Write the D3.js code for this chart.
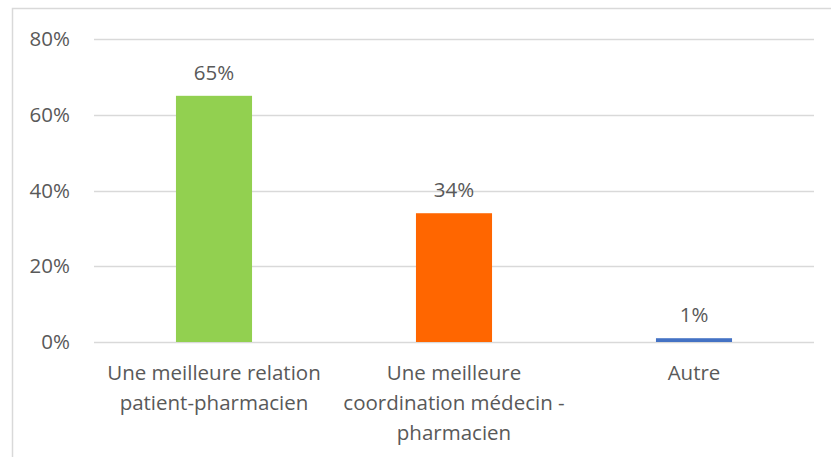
<!DOCTYPE html>
<html>
<head>
<meta charset="utf-8">
<script src="https://cdn.jsdelivr.net/npm/d3@7"></script>
<style>
  html, body { margin: 0; padding: 0; background: #fff; }
  svg text { font-family: "Open Sans", sans-serif; fill: #595959; }
</style>
</head>
<body>
<svg id="chart" width="831" height="457"></svg>
<script>
const categories = [
  ["Une meilleure relation", "patient-pharmacien"],
  ["Une meilleure", "coordination médecin -", "pharmacien"],
  ["Autre"]
];
const values = [65, 34, 1];
const barColors = ["#92d050", "#ff6600", "#4472c4"];
const yTicks = [0, 20, 40, 60, 80];

const svg = d3.select("#chart");
const W = 831, H = 457;
const fs = 20.5;

// chart frame
svg.append("rect")
  .attr("x", 12.5).attr("y", 8.5)
  .attr("width", W + 10).attr("height", H + 10)
  .attr("fill", "none").attr("stroke", "#d9d9d9").attr("stroke-width", 1.5);

const plot = { left: 94, right: 814, top: 39, bottom: 342 };

const x = d3.scaleBand()
  .domain(d3.range(categories.length))
  .range([plot.left, plot.right])
  .paddingInner(0.683).paddingOuter(0.3415);

const y = d3.scaleLinear().domain([0, 80]).range([plot.bottom, plot.top]);

// gridlines
svg.append("g")
  .selectAll("line").data(yTicks).join("line")
  .attr("x1", plot.left).attr("x2", plot.right)
  .attr("y1", d => Math.round(y(d)) + 0.5).attr("y2", d => Math.round(y(d)) + 0.5)
  .attr("stroke", "#d9d9d9").attr("stroke-width", 1.3);

// y tick labels
svg.append("g")
  .selectAll("text").data(yTicks).join("text")
  .attr("x", 70).attr("y", d => y(d))
  .attr("dy", "0.35em")
  .attr("text-anchor", "end")
  .attr("font-size", fs)
  .text(d => d + "%");

// bars
svg.append("g")
  .selectAll("rect").data(values).join("rect")
  .attr("x", (d, i) => x(i))
  .attr("width", x.bandwidth())
  .attr("y", d => y(d))
  .attr("height", d => y(0) - y(d))
  .attr("fill", (d, i) => barColors[i]);

// value labels
svg.append("g")
  .selectAll("text").data(values).join("text")
  .attr("x", (d, i) => x(i) + x.bandwidth() / 2)
  .attr("y", d => y(d) - 16)
  .attr("text-anchor", "middle")
  .attr("font-size", fs)
  .text(d => d + "%");

// category labels
const catG = svg.append("g")
  .selectAll("text").data(categories).join("text")
  .attr("text-anchor", "middle")
  .attr("font-size", fs);
catG.each(function(lines, i) {
  const cx = x(i) + x.bandwidth() / 2;
  d3.select(this).selectAll("tspan").data(lines).join("tspan")
    .attr("x", cx)
    .attr("y", (l, j) => 380 + j * 30)
    .text(l => l);
});
</script>
</body>
</html>
